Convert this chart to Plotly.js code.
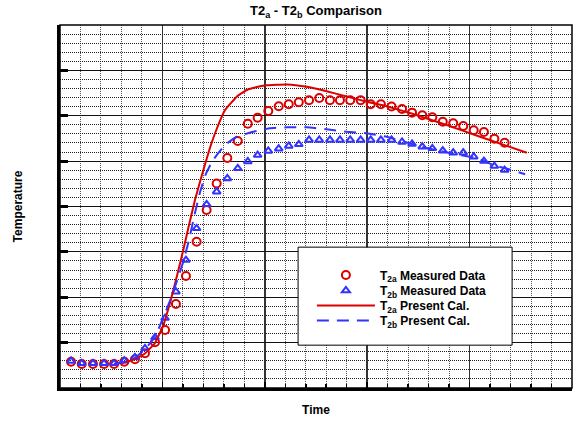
<!DOCTYPE html>
<html>
<head>
<meta charset="utf-8">
<script src="https://cdn.plot.ly/plotly-3.0.1.min.js"></script>
<style>html,body{margin:0;padding:0;background:#fff;}#chart{width:581px;height:422px;}</style>
</head>
<body>
<div id="chart"></div>
<script>
// Measured data (x positions shared by both measured series)
const measTime = [0.54,1.06,1.61,2.15,2.64,3.14,3.66,4.15,4.64,5.13,5.66,6.15,6.67,7.16,7.65,8.17,8.68,9.17,9.65,10.17,10.68,11.17,11.66,12.16,12.66,13.18,13.67,14.17,14.68,15.17,15.67,16.19,16.70,17.19,17.69,18.18,18.69,19.20,19.69,20.20,20.70,21.21,21.71];
const t2aMeasured = [2.90,2.64,2.64,2.64,2.64,2.90,3.16,3.82,5.04,6.39,9.26,12.34,16.12,19.61,22.53,25.34,27.22,29.12,29.79,30.52,31.04,31.26,31.48,31.70,31.96,31.70,31.70,31.70,31.70,31.26,31.26,31.02,30.74,30.34,30.05,29.83,29.34,29.17,28.87,28.40,28.21,27.47,27.03];
const t2bMeasured = [2.98,2.72,2.72,2.72,2.72,3.01,3.38,4.37,5.59,7.71,10.61,14.10,17.60,20.24,21.63,23.09,24.21,24.96,25.67,26.12,26.37,26.67,26.85,27.33,27.33,27.33,27.33,27.33,27.33,27.33,27.33,27.33,27.11,26.89,26.59,26.41,26.15,25.93,25.93,25.49,25.01,24.46,24.02];

// Present calculation curves
const t2aCalcTime = [2.64,3.13,3.66,4.15,4.64,5.03,5.41,5.71,6.02,6.30,6.59,6.93,7.29,7.67,8.06,8.63,9.12,9.57,10.09,11.07,12.05,13.02,14.00,14.98,15.95,17.25,18.88,20.51,22.79];
const t2aCalc = [2.64,2.81,3.20,3.80,4.96,6.83,9.70,12.34,15.21,17.96,20.72,23.47,26.23,28.65,30.63,32.10,32.84,33.15,33.35,33.45,33.20,32.70,32.12,31.55,31.05,30.19,28.98,27.69,25.93];
const t2bCalcTime = [2.64,3.13,3.66,4.15,4.64,5.03,5.45,5.74,6.02,6.30,6.59,6.84,7.12,7.47,8.06,8.63,9.44,10.25,11.07,12.05,13.02,14.00,14.98,15.95,16.85,17.94,19.53,20.35,21.16,21.92,22.71];
const t2bCalc = [2.64,2.87,3.31,4.30,5.62,7.71,10.06,12.01,13.92,16.31,19.28,21.60,23.58,25.12,26.78,27.69,28.24,28.62,28.73,28.73,28.51,28.24,28.07,27.69,27.11,26.41,25.67,25.34,24.57,24.10,23.55];

const seriesNames = [
  'T<sub>2a</sub> Measured Data',
  'T<sub>2b</sub> Measured Data',
  'T<sub>2a</sub> Present Cal.',
  'T<sub>2b</sub> Present Cal.'
];
const chartTitle = 'T2<sub>a</sub> - T2<sub>b</sub> Comparison';
const xTitle = 'Time';
const yTitle = 'Temperature';

const RED = '#dd0000';
const BLUE = '#3333ff';
const FONT = 'Liberation Sans, Arial, sans-serif';

const traces = [
  {x: measTime, y: t2aMeasured, mode: 'markers', name: seriesNames[0], legend: 'legend',
   marker: {symbol: 'circle-open', size: 8, color: RED, line: {width: 2, color: RED}}},
  {x: measTime, y: t2bMeasured, mode: 'markers', name: seriesNames[1], legend: 'legend2',
   marker: {symbol: 'triangle-up-open', size: 7, color: BLUE, line: {width: 2, color: BLUE}}},
  {x: t2aCalcTime, y: t2aCalc, mode: 'lines', name: seriesNames[2], legend: 'legend3',
   line: {color: RED, width: 2, shape: 'spline', smoothing: 0.3}},
  {x: t2bCalcTime, y: t2bCalc, mode: 'lines', name: seriesNames[3], legend: 'legend4',
   line: {color: BLUE, width: 2, dash: '12px,8px', shape: 'spline', smoothing: 0.3}}
];

// Plot area in pixels: left 60, right 572, top 25, bottom 388
function py(p) { return (388 - p) / 363; }
function legendAt(rowPx) {
  return {
    x: 0.492, y: py(rowPx), xanchor: 'left', yanchor: 'middle', xref: 'paper', yref: 'paper',
    bgcolor: 'rgba(0,0,0,0)', borderwidth: 0, itemwidth: 58,
    font: {family: FONT, size: 12, weight: 'bold', color: '#000'}
  };
}

const layout = {
  width: 581, height: 422,
  margin: {l: 60, r: 9, t: 25, b: 34},
  paper_bgcolor: '#fff', plot_bgcolor: '#fff',
  font: {family: FONT, color: '#000', size: 12},
  showlegend: true,
  title: {text: chartTitle, font: {family: FONT, size: 13, weight: 'bold', color: '#000'},
          x: 0.5, xref: 'paper', y: 0.985, yref: 'container', yanchor: 'top'},
  xaxis: {
    range: [0, 25], dtick: 5, tick0: 0, showticklabels: false,
    ticks: 'inside', ticklen: 6, tickwidth: 1.5, tickcolor: '#000',
    showgrid: true, gridcolor: '#333', gridwidth: 1.5,
    minor: {dtick: 1, showgrid: true, gridcolor: '#555', griddash: '1px,1px', gridwidth: 1,
            ticks: 'inside', ticklen: 4, tickwidth: 1.5, tickcolor: '#000'},
    showline: true, linecolor: '#000', linewidth: 3, zeroline: false,
    title: {text: xTitle, font: {family: FONT, size: 12, weight: 'bold'}, standoff: 16}
  },
  yaxis: {
    range: [0, 40], dtick: 5, tick0: 0, showticklabels: false,
    ticks: 'inside', ticklen: 8, tickwidth: 3, tickcolor: '#000',
    showgrid: true, gridcolor: '#111', gridwidth: 1.2,
    minor: {dtick: 1, showgrid: true, gridcolor: '#222', griddash: '1px,1px', gridwidth: 1},
    showline: true, linecolor: '#000', linewidth: 3, zeroline: false,
    title: {text: yTitle, font: {family: FONT, size: 12, weight: 'bold'}, standoff: 32}
  },
  legend: legendAt(275),
  legend2: legendAt(290.5),
  legend3: legendAt(305.5),
  legend4: legendAt(320.5),
  shapes: [
    {type: 'rect', xref: 'paper', yref: 'paper', x0: 0, x1: 1, y0: 0, y1: 1,
     line: {color: '#000', width: 1.5}, fillcolor: 'rgba(0,0,0,0)', layer: 'above'},
    {type: 'rect', xref: 'paper', yref: 'paper', x0: 0.465, x1: 0.883, y0: 0.118, y1: 0.388,
     line: {color: '#000', width: 1}, fillcolor: '#fff', layer: 'above'}
  ]
};

Plotly.newPlot('chart', traces, layout, {displayModeBar: false, staticPlot: true});
</script>
</body>
</html>
